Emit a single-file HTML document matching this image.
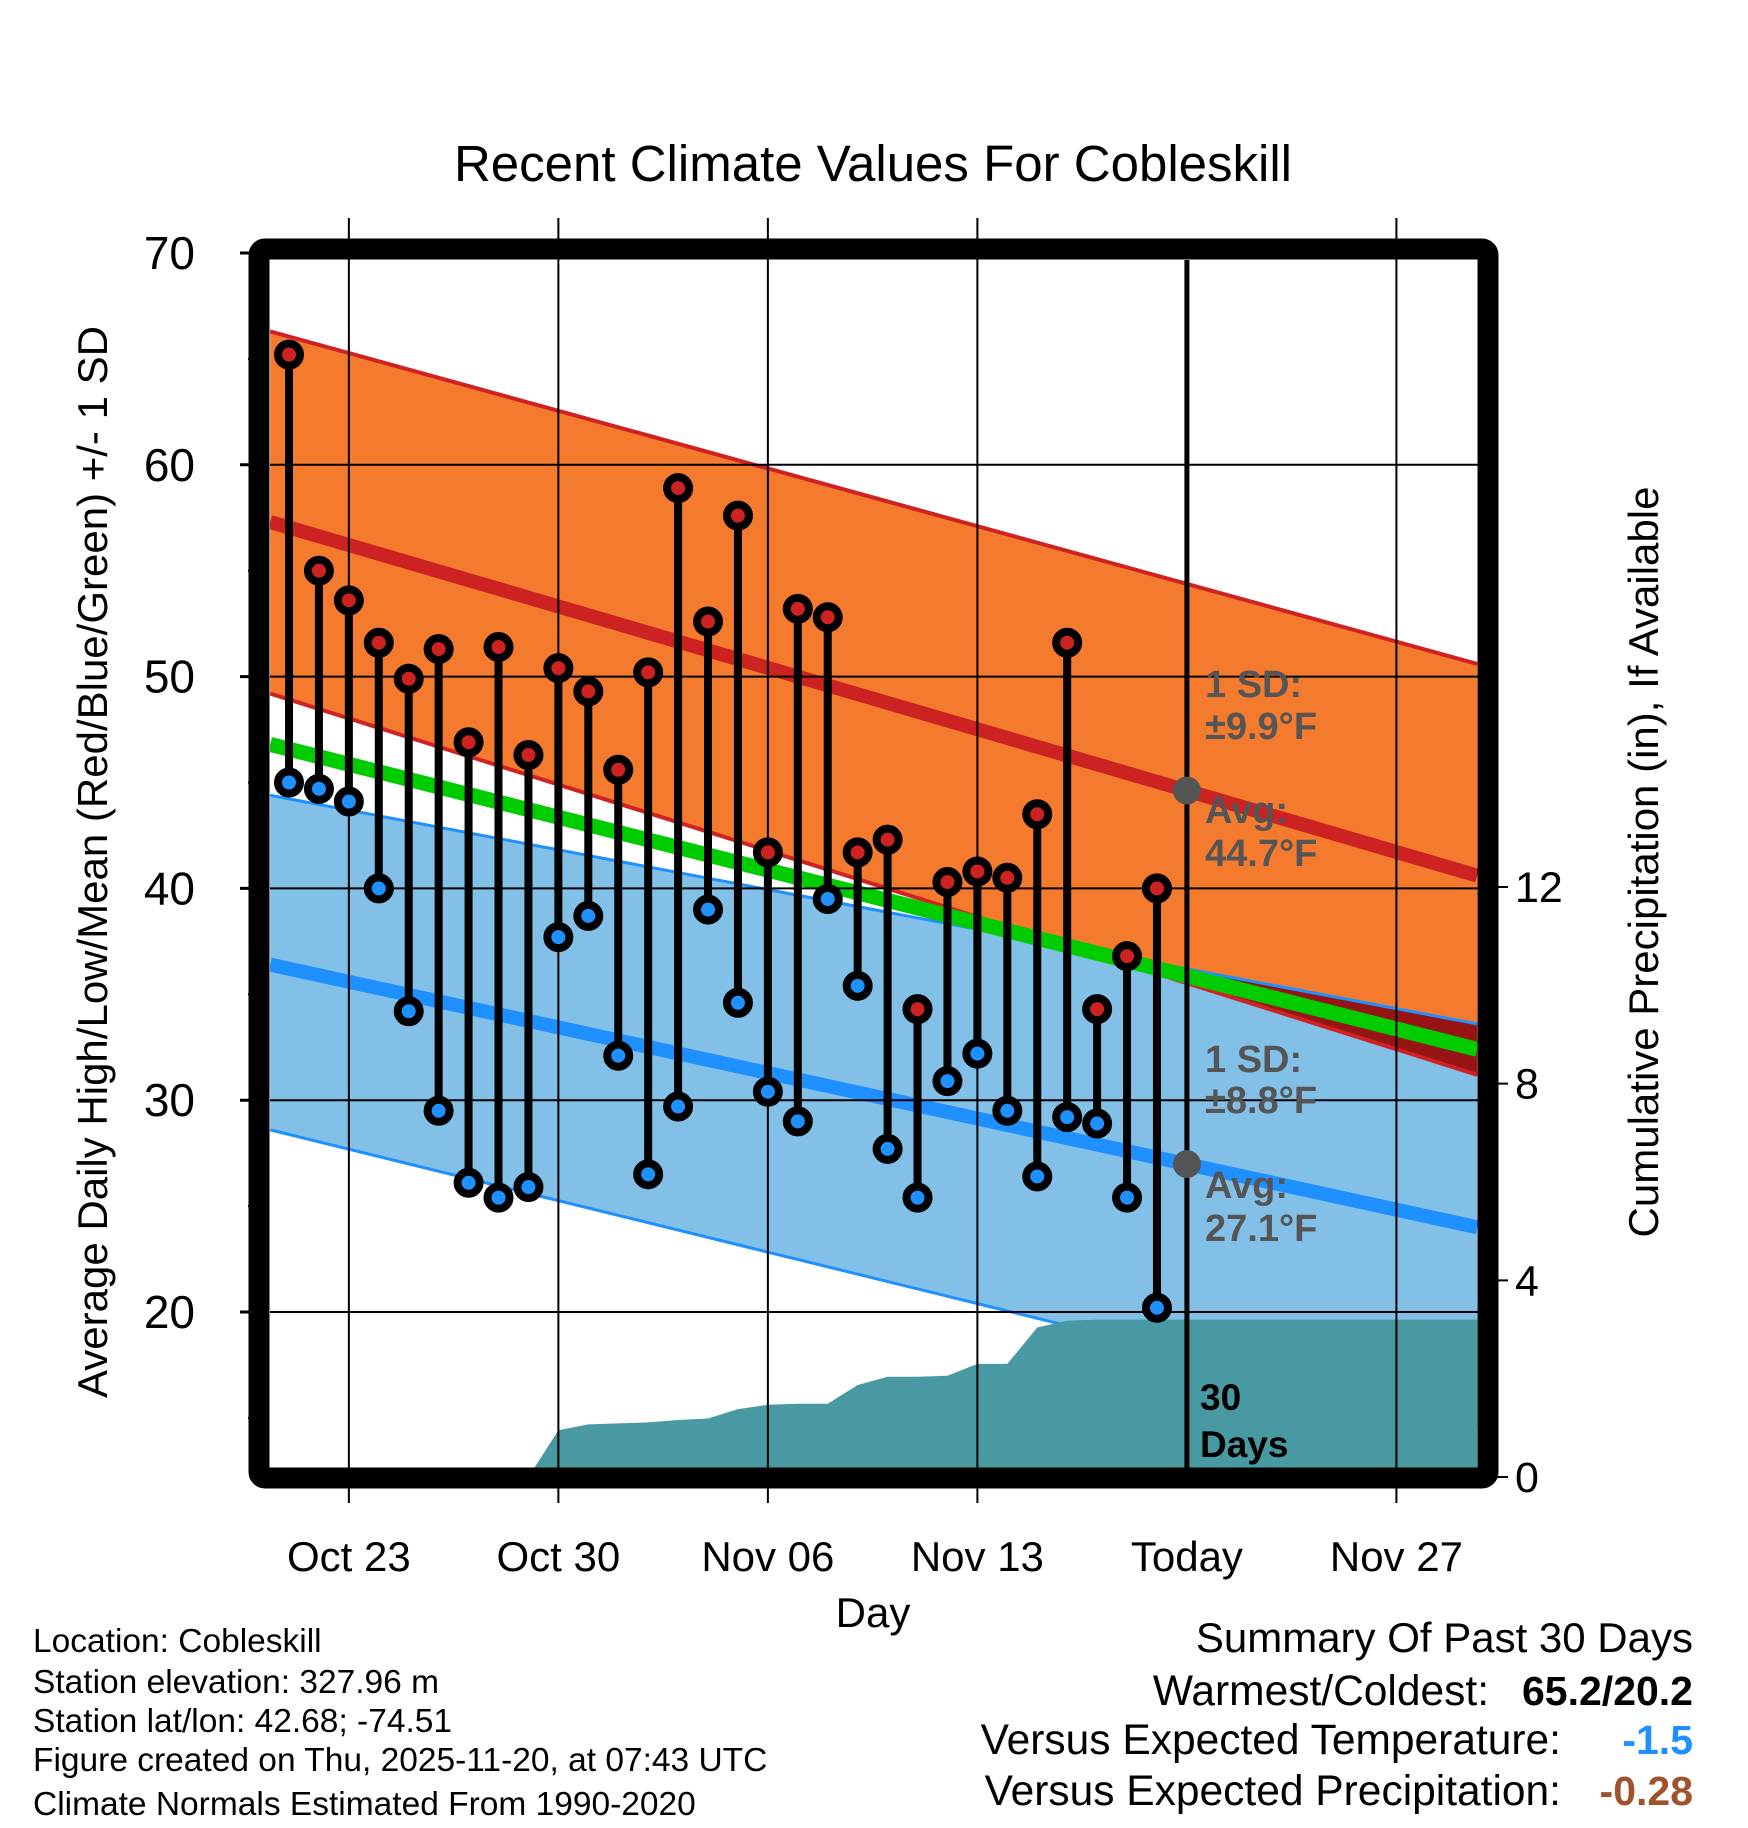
<!DOCTYPE html>
<html><head><meta charset="utf-8"><style>
html,body{margin:0;padding:0;background:#fff}
svg{display:block;font-family:"Liberation Sans",sans-serif}
</style></head><body>
<svg id="chart" width="1748" height="1828" viewBox="0 0 1748 1828" xmlns="http://www.w3.org/2000/svg"></svg>
<script>
// ---- data ----
const dayLabels = ["Oct 23","Oct 30","Nov 06","Nov 13","Today","Nov 27"];
const dayLabelIdx = [2,9,16,23,30,37];
const highs = [65.2,55.0,53.6,51.6,49.9,51.3,46.9,51.4,46.3,50.4,49.3,45.6,50.2,58.9,52.6,57.6,41.7,53.2,52.8,41.7,42.3,34.3,40.3,40.8,40.5,43.5,51.6,34.3,36.8,40.0];
const lows = [45.0,44.7,44.1,40.0,34.2,29.5,26.1,25.4,25.9,37.7,38.7,32.1,26.5,29.7,39.0,34.6,30.4,29.0,39.5,35.4,27.7,25.4,30.9,32.2,29.5,26.4,29.2,28.9,25.4,20.2];
const precip = [0,0,0,0,0,0,0,0,0,0.95,1.07,1.09,1.11,1.16,1.19,1.38,1.47,1.49,1.49,1.87,2.04,2.04,2.06,2.30,2.30,3.04,3.18,3.20,3.20,3.20];
// normals at left edge / right edge of plot
const highAvgEnds = [57.3,40.6];
const highUpEnds = [66.3,50.6];
const highLoEnds = [49.2,31.2];
const lowAvgEnds = [36.4,24.0];
const lowUpEnds = [44.4,33.6];
const lowLoEnds = [28.6,14.6];
const meanEnds = [46.8,32.4];
const yTicks = [20,30,40,50,60,70];
const yMinor = [15,25,35,45,55,65];
const pTicks = [0,4,8,12];

// ---- axes ----
const L=270,R=1478,T=260,B=1468;
const dL=-0.63,dR=39.7;
const X=d=>289+d*29.93;
const Y=v=>253+(70-v)*21.18;
const P=p=>1477-p*49.17;
const NS="http://www.w3.org/2000/svg";
const svg=document.getElementById('chart');
function el(tag,attrs,parent){const e=document.createElementNS(NS,tag);for(const k in attrs)e.setAttribute(k,attrs[k]);(parent||svg).appendChild(e);return e;}
function txt(s,attrs,parent){const e=el('text',attrs,parent);e.textContent=s;return e;}
const lineAt=(ends,d)=>ends[0]+(ends[1]-ends[0])*(d-dL)/(dR-dL);
function band(a,b){return `M${X(dL)},${Y(a[0])} L${X(dR)},${Y(a[1])} L${X(dR)},${Y(b[1])} L${X(dL)},${Y(b[0])} Z`;}

const defs=el('defs',{});
const cp=el('clipPath',{id:'plot'},defs);el('rect',{x:L,y:T,width:R-L,height:B-T},cp);
const cb=el('clipPath',{id:'blueclip'},defs);el('path',{d:band(lowUpEnds,lowLoEnds)},cb);
const g=el('g',{'clip-path':'url(#plot)'});



let e;
e=el('path',{d:band(lowUpEnds,lowLoEnds),fill:'#82c0e8'},g);

e=el('path',{d:band(highUpEnds,highLoEnds),fill:'#f47a2e'},g);

e=el('path',{d:band(highUpEnds,highLoEnds),fill:'#961414','clip-path':'url(#blueclip)'},g);


function nline(ends,color,w,name){
  const l=el('line',{x1:X(dL),y1:Y(ends[0]),x2:X(dR),y2:Y(ends[1]),stroke:color,'stroke-width':w},g);
  
  
}
nline(lowUpEnds,'#1e90ff',3,'low-plus-sd-line');
nline(lowLoEnds,'#1e90ff',3,'low-minus-sd-line');
nline(highUpEnds,'#d02222',4,'high-plus-sd-line');
nline(highLoEnds,'#d02222',4,'high-minus-sd-line');
nline(lowAvgEnds,'#1e90ff',14,'low-avg-line');
nline(highAvgEnds,'#cc2222',14,'high-avg-line');
nline(meanEnds,'#00cc00',15,'mean-line');

// precipitation area
let pd=`M${X(0)},${P(0)}`;
precip.forEach((p,i)=>{pd+=` L${X(i)},${P(p)}`;});
pd+=` L${X(dR)},${P(precip[precip.length-1])} L${X(dR)},${P(0)} Z`;
e=el('path',{d:pd,fill:'#4899a1'},g);


// gridlines
yTicks.forEach(v=>{if(v<70){const l=el('line',{x1:L,x2:R,y1:Y(v),y2:Y(v),stroke:'#000','stroke-width':2},g);
}});
dayLabelIdx.forEach((d,i)=>{if(i!==4){const l=el('line',{x1:X(d),x2:X(d),y1:218,y2:1503,stroke:'#000','stroke-width':2});
}});
e=el('line',{x1:X(30),x2:X(30),y1:T,y2:B,stroke:'#000','stroke-width':5});


// stems and markers
highs.forEach((h,i)=>{
  const s=el('line',{x1:X(i),x2:X(i),y1:Y(h),y2:Y(lows[i]),stroke:'#000','stroke-width':8});
  
  
});
highs.forEach((h,i)=>{
  const c1=el('circle',{cx:X(i),cy:Y(h),r:11,fill:'#cc2222',stroke:'#000','stroke-width':8});
  
  
  const c2=el('circle',{cx:X(i),cy:Y(lows[i]),r:11,fill:'#1e90ff',stroke:'#000','stroke-width':8});
  
  
});
e=el('circle',{cx:X(30),cy:Y(lineAt(highAvgEnds,30)),r:14,fill:'#555'});

e=el('circle',{cx:X(30),cy:Y(lineAt(lowAvgEnds,30)),r:14,fill:'#555'});


// annotation labels
const ann=[["1 SD:",697],["±9.9°F",739],["Avg:",823],["44.7°F",866],["1 SD:",1072],["±8.8°F",1113],["Avg:",1198],["27.1°F",1241]];
ann.forEach(a=>{const t=txt(a[0],{x:1205,y:a[1],'font-size':38,'font-weight':'bold',fill:'#555'});
});
e=txt("30",{x:1200,y:1410,'font-size':37,'font-weight':'bold',fill:'#000'});

e=txt("Days",{x:1200,y:1457,'font-size':37,'font-weight':'bold',fill:'#000'});


// frame
e=el('rect',{x:259,y:249,width:1229,height:1229,rx:6,fill:'none',stroke:'#000','stroke-width':21});


// y ticks
yTicks.forEach(v=>{
  const l=el('line',{x1:240,x2:259,y1:Y(v),y2:Y(v),stroke:'#000','stroke-width':3});
  
  const t=txt(String(v),{x:195,y:Y(v)+16,'font-size':46,'text-anchor':'end'});
  
});
yMinor.forEach(v=>{const l=el('line',{x1:248,x2:259,y1:Y(v),y2:Y(v),stroke:'#000','stroke-width':2});
});
pTicks.forEach(p=>{
  const l=el('line',{x1:1488,x2:1508,y1:P(p),y2:P(p),stroke:'#000','stroke-width':2});
  
  const t=txt(String(p),{x:1515,y:P(p)+15,'font-size':43});
  
});
dayLabels.forEach((s,i)=>{
  const t=txt(s,{x:X(dayLabelIdx[i]),y:1571,'font-size':42,'text-anchor':'middle'});
  
});

// titles
e=txt("Recent Climate Values For Cobleskill",{x:873,y:181,'font-size':51,'text-anchor':'middle'});

e=txt("Day",{x:873,y:1627,'font-size':42,'text-anchor':'middle'});

e=txt("Average Daily High/Low/Mean (Red/Blue/Green) +/- 1 SD",{x:0,y:0,'font-size':42,'text-anchor':'middle',transform:'translate(107,862) rotate(-90)'});

e=txt("Cumulative Precipitation (in), If Available",{x:0,y:0,'font-size':42,'text-anchor':'middle',transform:'translate(1658,862) rotate(-90)'});


// info text
const info=[["Location: Cobleskill",1652],["Station elevation: 327.96 m",1693],["Station lat/lon: 42.68; -74.51",1732],["Figure created on Thu, 2025-11-20, at 07:43 UTC",1771],["Climate Normals Estimated From 1990-2020",1815]];
info.forEach(a=>{const t=txt(a[0],{x:33,y:a[1],'font-size':33.5});
});

e=txt("Summary Of Past 30 Days",{x:1693,y:1652,'font-size':42,'text-anchor':'end'});

const sumRows=[["Warmest/Coldest:","65.2/20.2","#000",1705,1489],["Versus Expected Temperature:","-1.5","#1e90ff",1754,1561],["Versus Expected Precipitation:","-0.28","#a0522d",1805,1561]];
sumRows.forEach(r=>{
  const a=txt(r[0],{x:r[4],y:r[3],'font-size':42.5,'text-anchor':'end'});
  
  const b=txt(r[1],{x:1693,y:r[3],'font-size':41,'font-weight':'bold','text-anchor':'end',fill:r[2]});
  
});
</script>
</body></html>
